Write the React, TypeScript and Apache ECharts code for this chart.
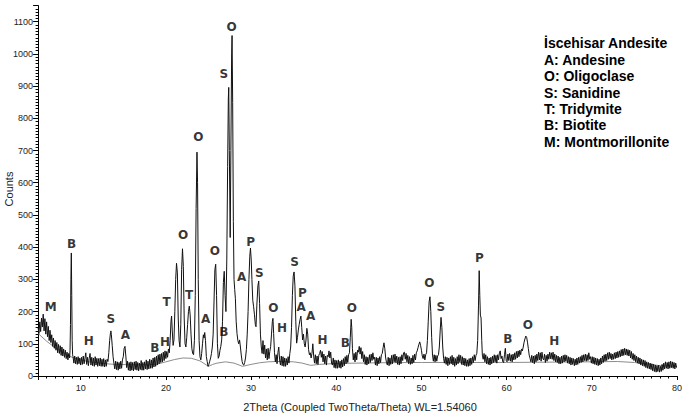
import React, { useEffect, useRef } from "react";
import * as echarts from "echarts";

// 2Theta (deg), Counts
const patternLow: [number, number][] = [
  [5.0,150],[5.1,132],[5.2,168],[5.3,138],[5.4,180],[5.5,152],[5.6,192],[5.7,140],[5.8,178],[5.9,130],
  [6.0,168],[6.1,122],[6.2,154],[6.3,110],[6.4,142],[6.5,104],[6.6,128],[6.7,92],[6.8,118],[6.9,86],
  [7.0,110],[7.1,80],[7.2,104],[7.3,72],[7.4,98],[7.5,70],[7.6,94],[7.7,64],[7.8,90],[7.9,62],
  [8.0,84],[8.1,58],[8.2,80],[8.3,54],[8.4,74],[8.5,50],[8.6,70],[8.7,56],[8.75,80],[8.8,160],
  [8.85,300],[8.9,382],[8.95,250],[9.0,110],[9.05,66],[9.1,60],[9.2,40],[9.3,62],[9.4,38],[9.5,58],
  [9.6,36],[9.7,60],[9.8,38],[9.9,56],[10.0,34],[10.1,58],[10.2,36],[10.3,62],[10.4,38],[10.5,55],
  [10.6,72],[10.7,36],[10.8,58],[10.9,32],[11.0,55],[11.1,70],[11.2,34],[11.3,58],[11.4,32],[11.5,56],
  [11.6,30],[11.7,60],[11.8,34],[11.9,55],[12.0,30],[12.1,54],[12.2,32],[12.3,56],[12.4,30],[12.5,52],
  [12.6,30],[12.7,54],[12.8,28],[12.9,50],[13.0,30],[13.1,52],[13.2,45],[13.3,72],[13.4,110],[13.5,135],
  [13.55,140],[13.6,128],[13.7,95],[13.8,60],[13.9,40],[14.0,22],[14.1,46],[14.2,20],[14.3,44],[14.4,18],
  [14.5,42],[14.6,22],[14.7,46],[14.8,24],[14.9,50],[15.0,60],[15.1,86],[15.2,92],[15.3,62],[15.4,26],
  [15.5,46],[15.6,18],[15.7,42],[15.8,16],[15.9,44],[16.0,18],[16.1,42],[16.2,16],[16.3,44],[16.4,20],
  [16.5,46],[16.6,18],[16.7,42],[16.8,16],[16.9,40],[17.0,20],[17.1,48],[17.2,18],[17.3,42],[17.4,18],
  [17.5,44],[17.6,22],[17.7,50],[17.8,20],[17.9,46],[18.0,22],[18.1,52],[18.2,24],[18.3,50],[18.4,24],
  [18.5,56],[18.6,28],[18.7,58],[18.8,30],[18.9,62],[19.0,34],[19.1,66],[19.2,38],[19.3,68],[19.4,42],
  [19.5,70],[19.6,44],[19.7,74],[19.8,48],[19.9,78]
];

const patternMid: [number, number][] = [
  [20.0,54],[20.1,76],[20.2,58],[20.3,84],[20.4,72],[20.5,110],[20.6,170],[20.67,186],[20.75,140],[20.85,95],
  [20.95,112],[21.05,200],[21.15,300],[21.25,350],[21.35,320],[21.45,180],[21.55,110],[21.65,90],[21.75,160],[21.85,330],
  [21.95,395],[22.05,340],[22.15,180],[22.25,100],[22.35,90],[22.45,120],[22.55,160],[22.65,200],[22.75,217],[22.85,190],
  [22.95,130],[23.05,85],[23.15,70],[23.25,66],[23.35,110],[23.45,250],[23.55,520],[23.65,695],[23.72,600],[23.8,300],
  [23.9,110],[24.0,60],[24.1,50],[24.2,70],[24.3,100],[24.4,128],[24.48,118],[24.56,135],[24.65,110],[24.75,60],
  [24.85,45],[24.95,30],[25.05,36],[25.15,46],[25.25,56],[25.35,70],[25.45,90],[25.55,130],[25.65,230],[25.75,330],
  [25.85,347],[25.95,250],[26.05,100],[26.15,55],[26.25,62],[26.35,80],[26.45,92],[26.55,112],[26.65,170],[26.75,290],
  [26.85,325],[26.95,250],[27.05,200],[27.15,360],[27.25,650],[27.33,860],[27.38,896],[27.45,700],[27.55,430],[27.63,700],
  [27.72,1000],[27.77,1057],[27.84,850],[27.92,480],[28.0,300],[28.08,268],[28.16,240],[28.25,170],[28.35,132],[28.45,110],
  [28.55,100],[28.65,112],[28.75,90],[28.85,65],[28.95,45],[29.05,36],[29.15,34],[29.25,42],[29.35,56],[29.45,82],
  [29.55,130],[29.65,200],[29.75,300],[29.85,372],[29.93,397],[30.02,360],[30.1,300],[30.2,235],[30.3,215],[30.4,190],
  [30.5,160],[30.58,153],[30.68,220],[30.8,280],[30.9,295],[31.0,225],[31.1,130],[31.2,90],[31.3,70],[31.4,110],
  [31.5,68],[31.6,96],[31.7,56],[31.8,84],[31.9,50],[32.0,86],[32.1,54],[32.2,76],[32.3,92],[32.4,130],
  [32.5,170],[32.57,179],[32.65,132],[32.75,72],[32.85,44],[32.95,66],[33.05,38],[33.15,72],[33.25,90],[33.35,50],
  [33.45,34],[33.55,62],[33.65,32],[33.75,60],[33.85,30],[33.95,56],[34.05,30],[34.15,54],[34.25,34],[34.35,60],
  [34.45,40],[34.55,70],[34.65,90],[34.75,150],[34.85,250],[34.95,310],[35.05,323],[35.15,280],[35.25,170],[35.35,102],
  [35.45,120],[35.55,143],[35.65,160],[35.75,175],[35.85,186],[35.95,150],[36.05,112],[36.15,130],[36.25,100],[36.35,90],
  [36.45,112],[36.55,148],[36.65,130],[36.75,82],[36.85,66],[36.95,72],[37.05,56],[37.15,70],[37.25,100],[37.35,62],
  [37.45,40],[37.55,66],[37.65,38],[37.75,62],[37.85,36],[37.95,64],[38.05,70],[38.15,80],[38.25,58],[38.35,76],
  [38.45,44],[38.55,68],[38.65,38],[38.75,62],[38.85,34],[38.95,64],[39.05,60],[39.15,78],[39.25,56],[39.35,74],
  [39.45,40],[39.55,34],[39.65,56],[39.75,26],[39.85,50],[39.95,24],[40.05,48],[40.15,24],[40.25,50],[40.35,26],
  [40.45,46],[40.55,24],[40.65,50],[40.75,28],[40.85,54],[40.95,32],[41.05,60],[41.15,38],[41.25,64],[41.35,42],
  [41.45,66]
];

const patternHigh: [number, number][] = [
  [41.55,72],[41.65,120],[41.75,176],[41.82,150],[41.9,85],[42.0,50],[42.1,70],[42.2,44],[42.3,74],[42.4,50],
  [42.5,80],[42.6,74],[42.7,92],[42.8,68],[42.9,88],[43.0,54],[43.1,76],[43.2,44],[43.3,66],[43.4,36],
  [43.5,60],[43.6,34],[43.7,58],[43.8,38],[43.9,66],[44.0,42],[44.1,68],[44.2,48],[44.3,72],[44.4,52],
  [44.5,58],[44.6,34],[44.7,58],[44.8,32],[44.9,56],[45.0,38],[45.1,60],[45.2,42],[45.3,66],[45.4,70],
  [45.5,88],[45.6,103],[45.7,85],[45.8,56],[45.9,42],[46.0,34],[46.1,58],[46.2,32],[46.3,56],[46.4,36],
  [46.5,64],[46.6,38],[46.7,66],[46.8,44],[46.9,68],[47.0,42],[47.1,62],[47.2,36],[47.3,58],[47.4,34],
  [47.5,60],[47.6,38],[47.7,66],[47.8,48],[47.9,72],[48.0,74],[48.1,52],[48.2,70],[48.3,44],[48.4,64],
  [48.5,38],[48.6,60],[48.7,36],[48.8,56],[48.9,38],[49.0,64],[49.1,42],[49.2,68],[49.3,50],[49.4,72],
  [49.5,78],[49.6,88],[49.7,98],[49.8,106],[49.9,95],[50.0,80],[50.1,62],[50.2,54],[50.3,68],[50.4,50],
  [50.5,66],[50.6,72],[50.7,110],[50.8,170],[50.9,230],[51.0,246],[51.1,200],[51.2,120],[51.3,65],[51.4,46],
  [51.5,66],[51.6,44],[51.7,64],[51.8,46],[51.9,62],[52.0,66],[52.1,90],[52.2,140],[52.3,182],[52.4,150],
  [52.5,90],[52.6,55],[52.7,40],[52.8,60],[52.9,36],[53.0,58],[53.1,32],[53.2,56],[53.3,36],[53.4,60],
  [53.5,38],[53.6,64],[53.7,34],[53.8,58],[53.9,30],[54.0,54],[54.1,34],[54.2,60],[54.3,38],[54.4,66],
  [54.5,44],[54.6,64],[54.7,36],[54.8,60],[54.9,34],[55.0,56],[55.1,32],[55.2,54],[55.3,30],[55.4,50],
  [55.5,30],[55.6,54],[55.7,32],[55.8,56],[55.9,36],[56.0,60],[56.1,42],[56.2,66],[56.3,48],[56.4,64],
  [56.5,70],[56.6,110],[56.7,220],[56.78,327],[56.85,250],[56.92,189],[57.0,180],[57.08,110],[57.15,65],[57.25,52],
  [57.35,70],[57.45,44],[57.55,66],[57.65,38],[57.75,60],[57.85,36],[57.95,56],[58.05,34],[58.15,58],[58.25,38],
  [58.35,62],[58.45,42],[58.55,66],[58.65,44],[58.75,64],[58.85,40],[58.95,66],[59.05,50],[59.15,72],[59.25,78],
  [59.35,54],[59.45,62],[59.55,44],[59.65,42],[59.75,66],[59.85,86],[59.95,48],[60.05,44],[60.15,68],[60.25,48],
  [60.35,70],[60.45,46],[60.55,66],[60.65,44],[60.75,68],[60.85,50],[60.95,72],[61.05,52],[61.15,76],[61.25,56],
  [61.35,78],[61.45,60],[61.55,80],[61.65,66],[61.75,84],[61.85,78],[61.95,90],[62.05,105],[62.15,115],[62.25,124],
  [62.35,120],[62.45,105],[62.55,85],[62.65,65],[62.75,55]
];

const patternTail: [number, number][] = [
  [62.85,44],[62.95,64],[63.05,42],[63.15,62],[63.25,38],[63.35,64],[63.45,44],[63.55,68],[63.65,48],[63.75,74],
  [63.85,50],[63.95,72],[64.05,46],[64.15,74],[64.25,54],[64.35,50],[64.45,68],[64.55,42],[64.65,64],[64.75,46],
  [64.85,68],[64.95,52],[65.05,74],[65.15,54],[65.25,72],[65.35,52],[65.45,74],[65.55,48],[65.65,68],[65.75,44],
  [65.85,64],[65.95,42],[66.05,62],[66.15,38],[66.25,58],[66.35,38],[66.45,62],[66.55,40],[66.65,64],[66.75,44],
  [66.85,66],[66.95,46],[67.05,64],[67.15,40],[67.25,60],[67.35,38],[67.45,58],[67.55,34],[67.65,56],[67.75,36],
  [67.85,54],[67.95,32],[68.05,52],[68.15,34],[68.25,56],[68.35,36],[68.45,58],[68.55,40],[68.65,60],[68.75,42],
  [68.85,64],[68.95,44],[69.05,66],[69.15,48],[69.25,68],[69.35,46],[69.45,66],[69.55,48],[69.65,72],[69.75,52],
  [69.85,60],[69.95,40],[70.05,60],[70.15,38],[70.25,58],[70.35,36],[70.45,56],[70.55,34],[70.65,54],[70.75,32],
  [70.85,52],[70.95,34],[71.05,56],[71.15,38],[71.25,62],[71.35,42],[71.45,66],[71.55,46],[71.65,68],[71.75,48],
  [71.85,72],[71.95,52],[72.05,74],[72.15,54],[72.25,70],[72.35,50],[72.45,68],[72.55,52],[72.65,72],[72.75,54],
  [72.85,74],[72.95,56],[73.05,76],[73.15,58],[73.25,78],[73.35,60],[73.45,82],[73.55,62],[73.65,84],[73.75,64],
  [73.85,86],[73.95,66],[74.05,84],[74.15,64],[74.25,82],[74.35,62],[74.45,80],[74.55,56],[74.65,76],[74.75,52],
  [74.85,70],[74.95,48],[75.05,66],[75.15,44],[75.25,62],[75.35,40],[75.45,58],[75.55,38],[75.65,56],[75.75,34],
  [75.85,52],[75.95,32],[76.05,50],[76.15,30],[76.25,48],[76.35,26],[76.45,44],[76.55,24],[76.65,42],[76.75,22],
  [76.85,40],[76.95,20],[77.05,38],[77.15,16],[77.25,36],[77.35,14],[77.45,34],[77.55,12],[77.65,32],[77.75,14],
  [77.85,34],[77.95,12],[78.05,30],[78.15,14],[78.25,36],[78.35,18],[78.45,40],[78.55,22],[78.65,44],[78.75,24],
  [78.85,42],[78.95,22],[79.05,44],[79.15,24],[79.25,46],[79.35,26],[79.45,44],[79.55,24],[79.65,42],[79.75,22],
  [79.85,40],[79.95,26]
];

const backgroundCurve: [number, number][] = [
  [5,132],[6,108],[7,88],[8,72],[9,58],[10,50],[11,44],[12,41],[13,38],[14,36],[16,35],[18,35],[19,37],
  [20,44],[21,51],[22,56],[23,55],[24,47],[25,30],[25.5,36],[26,40],[27,44],[28,40],[29,30],[30,36],
  [31,41],[32,44],[33,45],[34,45],[35,44],[36,40],[37,33],[38,36],[40,39],[45,41],[50,42],[55,42],
  [60,42],[65,43],[70,44],[73,45],[75,42],[77,36],[78,32],[80,30]
];

// [phase letter, 2Theta, Counts] label anchors
const peakLabels: [string, number, number][] = [
  ["M",6.48,213],["B",8.93,410],["H",10.95,110],["S",13.55,178],["A",15.26,126],["B",18.69,86],
  ["H",19.9,106],["T",20.08,230],["O",22.03,439],["T",22.73,252],["O",23.82,741],["A",24.68,178],
  ["O",25.76,388],["B",26.81,137],["S",26.81,937],["O",27.7,1084],["A",28.88,308],["P",29.96,417],
  ["S",30.97,319],["O",32.62,210],["H",33.62,148],["S",35.12,354],["A",35.87,215],["P",36.03,257],
  ["A",37.0,186],["H",38.4,112],["B",41.08,101],["O",41.82,210],["O",50.92,290],["S",52.28,215],
  ["P",56.79,366],["B",60.14,115],["O",62.5,158],["H",65.58,109]
];

const legendLines: string[] = [
  "İscehisar Andesite",
  "A: Andesine",
  "O: Oligoclase",
  "S: Sanidine",
  "T: Tridymite",
  "B: Biotite",
  "M: Montmorillonite"
];

const xTitle = "2Theta (Coupled TwoTheta/Theta) WL=1.54060";
const yTitle = "Counts";

export default function App() {
  const ref = useRef<HTMLDivElement>(null);
  useEffect(() => {
    if (!ref.current) return;
    const chart = echarts.init(ref.current, null, { renderer: "svg" });
    const sans = '"Liberation Sans", Arial, sans-serif';
    const pattern = [...patternLow, ...patternMid, ...patternHigh, ...patternTail];
    chart.setOption({
      animation: false,
      backgroundColor: "#ffffff",
      grid: { left: 38.1, right: 4, top: 5.6, bottom: 41, containLabel: false },
      xAxis: {
        type: "value",
        min: 5,
        max: 80,
        interval: 5,
        axisLine: { show: true, lineStyle: { color: "#000", width: 1 } },
        axisTick: { show: true, length: 4, lineStyle: { color: "#000" } },
        minorTick: { show: true, splitNumber: 5, length: 2.5, lineStyle: { color: "#000" } },
        splitLine: { show: false },
        axisLabel: {
          formatter: (v: number) => (v % 10 === 0 ? String(v) : ""),
          fontSize: 9,
          fontFamily: sans,
          color: "#222",
          margin: 7,
        },
      },
      yAxis: {
        type: "value",
        min: 0,
        max: 1150,
        interval: 100,
        axisLine: { show: true, lineStyle: { color: "#000", width: 1 } },
        axisTick: { show: true, length: 5, lineStyle: { color: "#000" } },
        minorTick: { show: true, splitNumber: 10, length: 2.5, lineStyle: { color: "#000" } },
        splitLine: { show: false },
        axisLabel: {
          showMaxLabel: false,
          formatter: (v: number) => String(v),
          fontSize: 9,
          fontFamily: sans,
          color: "#222",
          margin: 5,
        },
      },
      series: [
        {
          type: "line",
          data: backgroundCurve,
          showSymbol: false,
          symbol: "none",
          silent: true,
          z: 2,
          lineStyle: { color: "#8c8c8c", width: 1 },
        },
        {
          type: "line",
          data: pattern,
          showSymbol: false,
          symbol: "none",
          silent: true,
          z: 3,
          lineStyle: { color: "#111", width: 1 },
        },
        {
          type: "scatter",
          data: peakLabels.map(([l, x, y]) => ({ name: l, value: [x, y] })),
          symbolSize: 1,
          silent: true,
          z: 5,
          itemStyle: { color: "rgba(0,0,0,0)" },
          label: {
            show: true,
            position: "inside",
            formatter: "{b}",
            fontSize: 12,
            fontWeight: "bold",
            fontFamily: '"DejaVu Sans", Verdana, sans-serif',
            color: "#000",
          },
        },
      ],
      graphic: [
        ...legendLines.map((t, i) => ({
          type: "text",
          x: 544,
          y: 43.3 + i * 16.4,
          silent: true,
          style: {
            text: t,
            fontSize: 14,
            fontWeight: "bold",
            fontFamily: sans,
            fill: "#000",
            align: "left",
            verticalAlign: "middle",
            textAlign: "left",
            textVerticalAlign: "middle",
          },
        })),
        {
          type: "text",
          x: 360,
          y: 407,
          silent: true,
          style: {
            text: xTitle,
            fontSize: 11,
            fontFamily: sans,
            fill: "#222",
            align: "center",
            verticalAlign: "middle",
            textAlign: "center",
            textVerticalAlign: "middle",
          },
        },
        {
          type: "text",
          x: 8.5,
          y: 189,
          rotation: Math.PI / 2,
          silent: true,
          style: {
            text: yTitle,
            fontSize: 11,
            fontFamily: sans,
            fill: "#222",
            align: "center",
            verticalAlign: "middle",
            textAlign: "center",
            textVerticalAlign: "middle",
          },
        },
      ],
    });
    return () => chart.dispose();
  }, []);
  return (
    <div
      ref={ref}
      style={{ position: "fixed", left: 0, top: 0, width: 685, height: 417, background: "#fff" }}
    />
  );
}
